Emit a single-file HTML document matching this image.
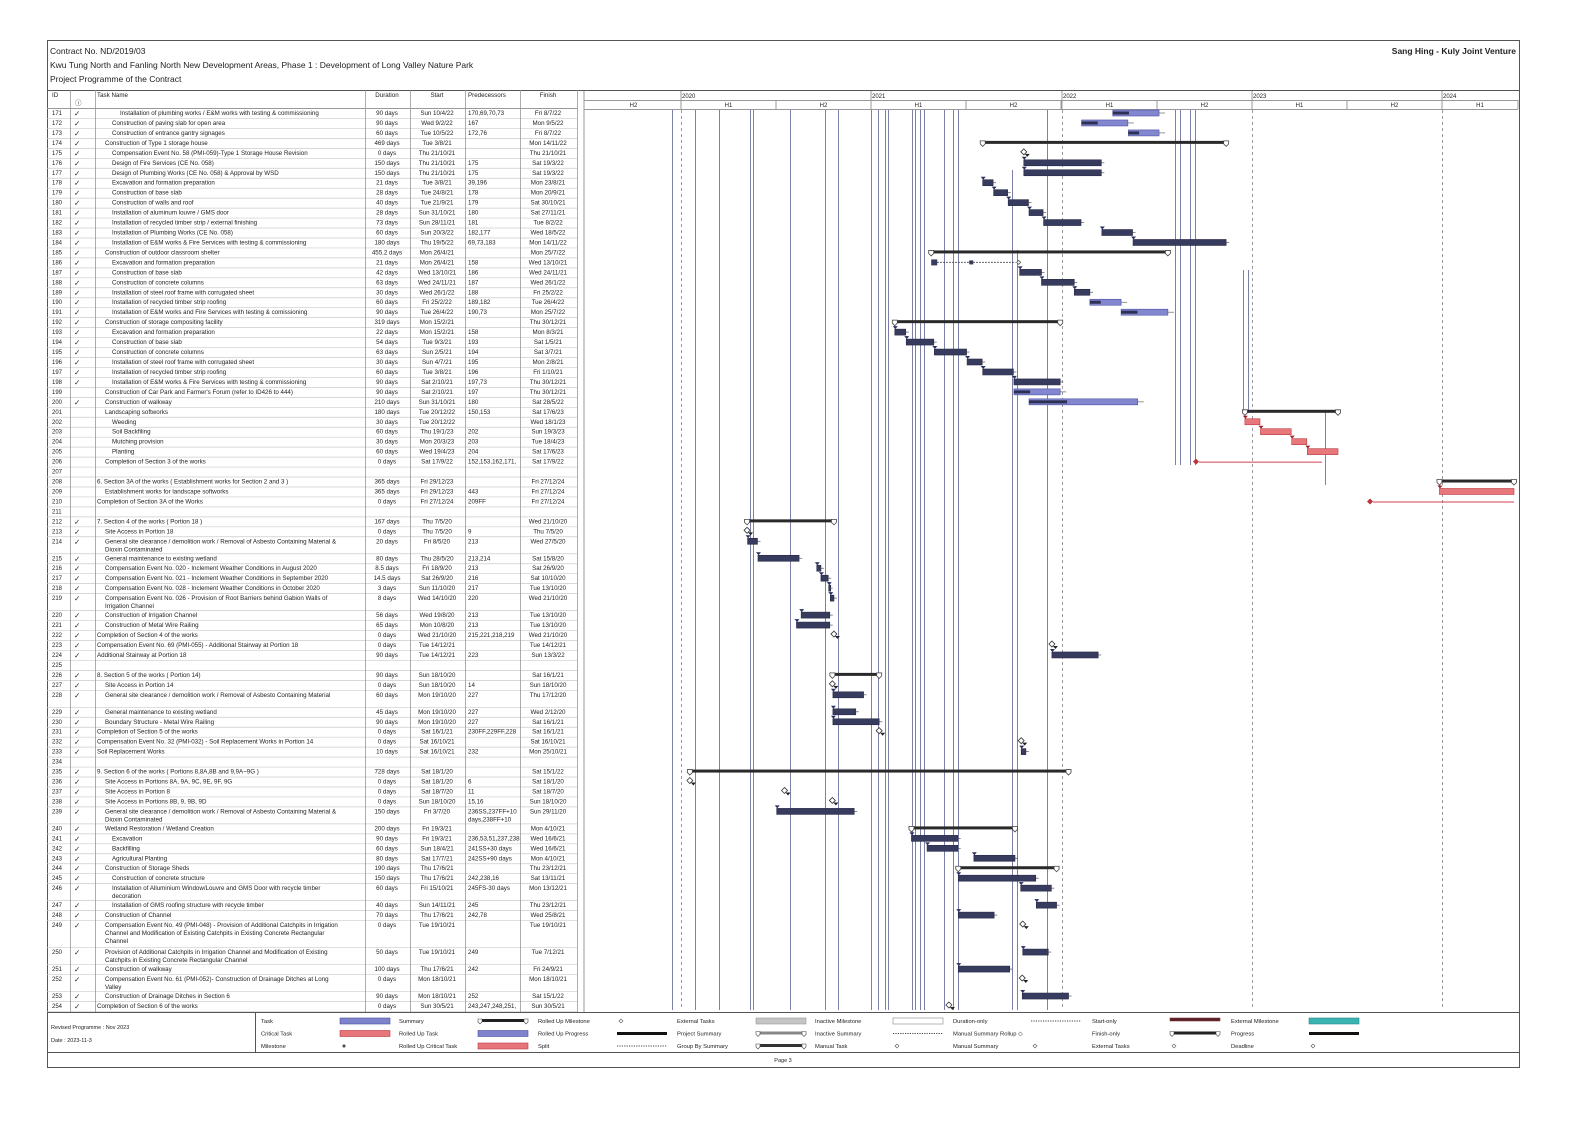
<!DOCTYPE html>
<html><head><meta charset="utf-8"><style>
html,body{margin:0;padding:0;background:#fff}
svg{display:block}
text{font-family:"Liberation Sans",sans-serif;fill:#222}
</style></head><body>
<svg id="s" width="1588" height="1123" viewBox="0 0 1588 1123" xmlns="http://www.w3.org/2000/svg">
<rect x="0" y="0" width="1588" height="1123" fill="#fff"/>
<rect x="47.5" y="40.5" width="1472" height="1027" fill="none" stroke="#555" stroke-width="1"/>
<text x="50" y="54" font-size="8.5">Contract No. ND/2019/03</text>
<text x="50" y="68" font-size="8.5">Kwu Tung North and Fanling North New Development Areas, Phase 1 : Development of Long Valley Nature Park</text>
<text x="50" y="82" font-size="8.5">Project Programme of the Contract</text>
<text x="1516" y="54" font-size="8.5" font-weight="bold" text-anchor="end">Sang Hing - Kuly Joint Venture</text>
<g id="g"></g>
</svg>
<script>
var NS="http://www.w3.org/2000/svg",G=document.getElementById("g");
function el(t,a,txt){var e=document.createElementNS(NS,t);for(var k in a)e.setAttribute(k,a[k]);if(txt!=null)e.textContent=txt;G.appendChild(e);return e;}
function L(x1,y1,x2,y2,c,w,d){var a={x1:x1,y1:y1,x2:x2,y2:y2,stroke:c||"#bbb","stroke-width":w||1};if(d)a["stroke-dasharray"]=d;return el("line",a);}
function T(x,y,s,sz,anc,ex){var a={x:x,y:y,"font-size":sz||6.2};if(anc)a["text-anchor"]=anc;for(var k in ex||{})a[k]=ex[k];return el("text",a,s);}
function dx(s){var p=s.split("/");var d=(Date.UTC(2000+ +p[2],p[1]-1,+p[0])-Date.UTC(2020,0,1))/864e5;return 681+d/365.25*190;}
var GL=584,GR=1518;
// header
L(47,90.5,1520,90.5,"#555");L(47,108.5,577,108.5,"#999");
L(584,100.5,1518,100.5,"#999");L(584,109.5,1518,109.5,"#999");
T(52,97,"ID",6.2);T(75,105,"ⓘ",6.5);T(97,97,"Task Name",6.2);T(387,97,"Duration",6.2,"middle");T(437,97,"Start",6.2,"middle");T(468,97,"Predecessors",6.2);T(548,97,"Finish",6.2,"middle");
var yrs=[[2020,681],[2021,871],[2022,1062],[2023,1252],[2024,1442]];
yrs.forEach(function(y){L(y[1],91,y[1],109,"#999");T(y[1]+1,98,y[0],6);});
var halves=[[586,681,"H2"]];
yrs.forEach(function(y){halves.push([y[1],y[1]+95,"H1"]);halves.push([y[1]+95,y[1]+190,"H2"]);});
halves.forEach(function(h){var a=h[0],b=Math.min(h[1],GR);if(a>=GR)return;L(b,100,b,109,"#999");T((a+b)/2,107,h[2],6,"middle");});
L(584,91,584,1012,"#999");
// rows data: id,check,indent,name,dur,start,pred,finish,type,lines
var R=[
[171,1,3,"Installation of plumbing works / E&M works with testing & commissioning","90 days","Sun 10/4/22","170,69,70,73","Fri 8/7/22","P"],
[172,1,2,"Construction of paving slab for open area","90 days","Wed 9/2/22","167","Mon 9/5/22","P"],
[173,1,2,"Construction of entrance gantry signages","60 days","Tue 10/5/22","172,76","Fri 8/7/22","P"],
[174,1,1,"Construction of Type 1 storage house","469 days","Tue 3/8/21","","Mon 14/11/22","S"],
[175,1,2,"Compensation Event No. 58 (PMI-059)-Type 1 Storage House Revision","0 days","Thu 21/10/21","","Thu 21/10/21","M"],
[176,1,2,"Design of Fire Services (CE No. 058)","150 days","Thu 21/10/21","175","Sat 19/3/22","T"],
[177,1,2,"Design of Plumbing Works (CE No. 058) & Approval by WSD","150 days","Thu 21/10/21","175","Sat 19/3/22","T"],
[178,1,2,"Excavation and formation preparation","21 days","Tue 3/8/21","39,196","Mon 23/8/21","T"],
[179,1,2,"Construction of base slab","28 days","Tue 24/8/21","178","Mon 20/9/21","T"],
[180,1,2,"Construction of walls and roof","40 days","Tue 21/9/21","179","Sat 30/10/21","T"],
[181,1,2,"Installation of aluminum louvre / GMS door","28 days","Sun 31/10/21","180","Sat 27/11/21","T"],
[182,1,2,"Installation of recycled timber strip / external finishing","73 days","Sun 28/11/21","181","Tue 8/2/22","T"],
[183,1,2,"Installation of Plumbing Works (CE No. 058)","60 days","Sun 20/3/22","182,177","Wed 18/5/22","T"],
[184,1,2,"Installation of E&M works & Fire Services with testing & commissioning","180 days","Thu 19/5/22","69,73,183","Mon 14/11/22","T"],
[185,1,1,"Construction of outdoor classroom shelter","455.2 days","Mon 26/4/21","","Mon 25/7/22","S"],
[186,1,2,"Excavation and formation preparation","21 days","Mon 26/4/21","158","Wed 13/10/21","SP"],
[187,1,2,"Construction of base slab","42 days","Wed 13/10/21","186","Wed 24/11/21","T"],
[188,1,2,"Construction of concrete columns","63 days","Wed 24/11/21","187","Wed 26/1/22","T"],
[189,1,2,"Installation of steel roof frame with corrugated sheet","30 days","Wed 26/1/22","188","Fri 25/2/22","T"],
[190,1,2,"Installation of recycled timber strip roofing","60 days","Fri 25/2/22","189,182","Tue 26/4/22","P"],
[191,1,2,"Installation of E&M works and Fire Services with testing & comissioning","90 days","Tue 26/4/22","190,73","Mon 25/7/22","P"],
[192,1,1,"Construction of storage compositing facility","319 days","Mon 15/2/21","","Thu 30/12/21","S"],
[193,1,2,"Excavation and formation preparation","22 days","Mon 15/2/21","158","Mon 8/3/21","T"],
[194,1,2,"Construction of base slab","54 days","Tue 9/3/21","193","Sat 1/5/21","T"],
[195,1,2,"Construction of concrete columns","63 days","Sun 2/5/21","194","Sat 3/7/21","T"],
[196,1,2,"Installation of steel roof frame with corrugated sheet","30 days","Sun 4/7/21","195","Mon 2/8/21","T"],
[197,1,2,"Installation of recycled timber strip roofing","60 days","Tue 3/8/21","196","Fri 1/10/21","T"],
[198,1,2,"Installation of E&M works & Fire Services with testing & commissioning","90 days","Sat 2/10/21","197,73","Thu 30/12/21","T"],
[199,0,1,"Construction of Car Park and Farmer's Forum (refer to ID426 to 444)","90 days","Sat 2/10/21","197","Thu 30/12/21","P"],
[200,1,1,"Construction of walkway","210 days","Sun 31/10/21","180","Sat 28/5/22","P"],
[201,0,1,"Landscaping softworks","180 days","Tue 20/12/22","150,153","Sat 17/6/23","S"],
[202,0,2,"Weeding","30 days","Tue 20/12/22","","Wed 18/1/23","C"],
[203,0,2,"Soil Backfiling","60 days","Thu 19/1/23","202","Sun 19/3/23","C"],
[204,0,2,"Mutching provision","30 days","Mon 20/3/23","203","Tue 18/4/23","C"],
[205,0,2,"Planting","60 days","Wed 19/4/23","204","Sat 17/6/23","C"],
[206,0,1,"Completion of Section 3 of the works","0 days","Sat 17/9/22","152,153,162,171,","Sat 17/9/22","CM"],
[207,0,0,"","","","","",""],
[208,0,0,"6.  Section 3A of the works ( Establishment works for Section 2 and 3 )","365 days","Fri 29/12/23","","Fri 27/12/24","S"],
[209,0,1,"Establishment works for landscape softworks","365 days","Fri 29/12/23","443","Fri 27/12/24","C"],
[210,0,0,"Completion of Section 3A of the Works","0 days","Fri 27/12/24","209FF","Fri 27/12/24","CM2"],
[211,0,0,"","","","","",""],
[212,1,0,"7.  Section 4 of the works ( Portion 18 )","167 days","Thu 7/5/20","","Wed 21/10/20","S"],
[213,1,1,"Site Access in Portion 18","0 days","Thu 7/5/20","9","Thu 7/5/20","M"],
[214,1,1,"General site clearance / demolition work / Removal of Asbesto Containing Material &|Dioxin Contaminated","20 days","Fri 8/5/20","213","Wed 27/5/20","T"],
[215,1,1,"General maintenance to existing wetland","80 days","Thu 28/5/20","213,214","Sat 15/8/20","T"],
[216,1,1,"Compensation Event No. 020 - Inclement Weather Conditions in August 2020","8.5 days","Fri 18/9/20","213","Sat 26/9/20","T"],
[217,1,1,"Compensation Event No. 021 - Inclement Weather Conditions in September 2020","14.5 days","Sat 26/9/20","216","Sat 10/10/20","T"],
[218,1,1,"Compensation Event No. 028 - Inclement Weather Conditions in October 2020","3 days","Sun 11/10/20","217","Tue 13/10/20","T"],
[219,1,1,"Compensation Event No. 026 - Provision of Root Barriers behind Gabion Walls of|Irrigation Channel","8 days","Wed 14/10/20","220","Wed 21/10/20","T"],
[220,1,1,"Construction of Irrigation Channel","56 days","Wed 19/8/20","213","Tue 13/10/20","T"],
[221,1,1,"Construction of Metal Wire Railing","65 days","Mon 10/8/20","213","Tue 13/10/20","T"],
[222,1,0,"Completion of Section 4 of the works","0 days","Wed 21/10/20","215,221,218,219","Wed 21/10/20","M"],
[223,1,0,"Compensation Event No. 69 (PMI-055) - Additional Stairway at Portion 18","0 days","Tue 14/12/21","","Tue 14/12/21","M"],
[224,1,0,"Additional Stairway at Portion 18","90 days","Tue 14/12/21","223","Sun 13/3/22","T"],
[225,0,0,"","","","","",""],
[226,1,0,"8.  Section 5 of the works ( Portion 14)","90 days","Sun 18/10/20","","Sat 16/1/21","S"],
[227,1,1,"Site Access in Portion 14","0 days","Sun 18/10/20","14","Sun 18/10/20","M"],
[228,1,1,"General site clearance / demolition work / Removal of Asbesto Containing Material| ","60 days","Mon 19/10/20","227","Thu 17/12/20","T"],
[229,1,1,"General maintenance to existing wetland","45 days","Mon 19/10/20","227","Wed 2/12/20","T"],
[230,1,1,"Boundary Structure - Metal Wire Railing","90 days","Mon 19/10/20","227","Sat 16/1/21","T"],
[231,1,0,"Completion of Section 5 of the works","0 days","Sat 16/1/21","230FF,229FF,228","Sat 16/1/21","M"],
[232,1,0,"Compensation Event No. 32 (PMI-032) - Soil Replacement Works in Portion 14","0 days","Sat 16/10/21","","Sat 16/10/21","M"],
[233,1,0,"Soil Replacement Works","10 days","Sat 16/10/21","232","Mon 25/10/21","T"],
[234,0,0,"","","","","",""],
[235,1,0,"9.  Section 6 of the works ( Portions 8,8A,8B and 9,9A~9G )","728 days","Sat 18/1/20","","Sat 15/1/22","S"],
[236,1,1,"Site Access in Portions 8A, 9A, 9C, 9E, 9F, 9G","0 days","Sat 18/1/20","6","Sat 18/1/20","M"],
[237,1,1,"Site Access in Portion 8","0 days","Sat 18/7/20","11","Sat 18/7/20","M"],
[238,1,1,"Site Access in Portions 8B, 9, 9B, 9D","0 days","Sun 18/10/20","15,16","Sun 18/10/20","M"],
[239,1,1,"General site clearance / demolition work / Removal of Asbesto Containing Material &|Dioxin Contaminated","150 days","Fri 3/7/20","236SS,237FF+10|days,238FF+10","Sun 29/11/20","T"],
[240,1,1,"Wetland Restoration / Wetland Creation","200 days","Fri 19/3/21","","Mon 4/10/21","S"],
[241,1,2,"Excavation","90 days","Fri 19/3/21","236,53,51,237,238","Wed 16/6/21","T"],
[242,1,2,"Backfilling","60 days","Sun 18/4/21","241SS+30 days","Wed 16/6/21","T"],
[243,1,2,"Agricultural Planting","80 days","Sat 17/7/21","242SS+90 days","Mon 4/10/21","T"],
[244,1,1,"Construction of Storage Sheds","190 days","Thu 17/6/21","","Thu 23/12/21","S"],
[245,1,2,"Construction of concrete structure","150 days","Thu 17/6/21","242,238,16","Sat 13/11/21","T"],
[246,1,2,"Installation of Alluminium Window/Louvre and GMS Door with recycle timber|decoration","60 days","Fri 15/10/21","245FS-30 days","Mon 13/12/21","T"],
[247,1,2,"Installation of GMS roofing structure with recycle timber","40 days","Sun 14/11/21","245","Thu 23/12/21","T"],
[248,1,1,"Construction of Channel","70 days","Thu 17/6/21","242,78","Wed 25/8/21","T"],
[249,1,1,"Compensation Event No. 49 (PMI-048) - Provision of Additional Catchpits in Irrigation|Channel and Modification of Existing Catchpits in Existing Concrete Rectangular|Channel","0 days","Tue 19/10/21","","Tue 19/10/21","M"],
[250,1,1,"Provision of Additional Catchpits in Irrigation Channel and Modification of Existing|Catchpits in Existing Concrete Rectangular Channel","50 days","Tue 19/10/21","249","Tue 7/12/21","T"],
[251,1,1,"Construction of walkway","100 days","Thu 17/6/21","242","Fri 24/9/21","T"],
[252,1,1,"Compensation Event No. 61 (PMI-052)- Construction of Drainage Ditches at Long|Valley","0 days","Mon 18/10/21","","Mon 18/10/21","M"],
[253,1,1,"Construction of Drainage Ditches in Section 6","90 days","Mon 18/10/21","252","Sat 15/1/22","T"],
[254,1,0,"Completion of Section 6 of the works","0 days","Sun 30/5/21","243,247,248,251,","Sun 30/5/21","M"]
];
// vertical link lines
var VL=[672,695,719,750,753,790,825,838,871,878,885,888,912,915,920,924,944,953,958];
VL.forEach(function(x){L(x+.5,110,x+.5,1010,"#7c80a8",1);});
[[1012,170,1010],[1017,250,1010],[1047,110,1010],[1175,110,465],[1180,110,465],[1190,110,465],[1195,110,465],[1243,270,413],[1248,270,413],[1325,410,485]].forEach(function(v){L(v[0]+.5,v[1],v[0]+.5,v[2],"#7c80a8",1);});
[681,1062,1252,1442].forEach(function(x){L(x+.5,110,x+.5,1010,"#999",1,"3,3");});
var IND=[97,105,112,120],y=108,U=9.96;
R.forEach(function(r){
  var nl=r[3].split("|").length,h=nl==1?U:(nl==2?17:27);
  var top=y;
  L(47,top+h+.5,577,top+h+.5,"#ccc",.7);
  T(52,top+7,r[0],6);
  if(r[1])T(74,top+8,"✓",7.5,null,{fill:"#3b6fb6"});
  r[3].split("|").forEach(function(s,i){T(IND[r[2]],top+7+i*8,s,6.2);});
  T(387,top+7,r[4],6.2,"middle");T(437,top+7,r[5],6.2,"middle");
  r[6].split("|").forEach(function(s,i){T(468,top+7+i*8,s,6.2);});
  T(548,top+7,r[7],6.2,"middle");
  var cy=top+5,t=r[8];
  if(t){var x1=dx(r[5].split(" ")[1]),x2=r[7]?dx(r[7].split(" ")[1]):x1;x2=Math.min(x2,1514);
  if(t=="S"){el("rect",{x:x1,y:cy-2,width:x2-x1,height:3,fill:"#2a2a2a"});
    el("path",{d:"M"+(x1-2.5)+","+(cy-2)+"h5v3l-2.5,2.5l-2.5,-2.5z",fill:"#fff",stroke:"#444","stroke-width":.8});
    el("path",{d:"M"+(x2-2.5)+","+(cy-2)+"h5v3l-2.5,2.5l-2.5,-2.5z",fill:"#fff",stroke:"#444","stroke-width":.8});}
  else if(t=="T"){el("rect",{x:x1,y:cy-3,width:Math.max(x2-x1,2),height:6,fill:"#373b5e",stroke:"#272a45","stroke-width":.6});
    el("path",{d:"M"+(x1-2)+","+(cy-6)+"h5l-2.5,3z",fill:"#2a2e60"});
    L(x2,cy,x2+3,cy,"#555",.7);}
  else if(t=="P"){el("rect",{x:x1,y:cy-3,width:x2-x1,height:6,fill:"#8387d0",stroke:"#4b50a2","stroke-width":.6});
    el("rect",{x:x1,y:cy-1.5,width:(x2-x1)*.35,height:3,fill:"#2d3052"});L(x2,cy,x2+6,cy,"#666",.7);}
  else if(t=="C"){el("rect",{x:x1,y:cy-3,width:x2-x1,height:6,fill:"#e8777b",stroke:"#b83a42","stroke-width":.6});
    el("path",{d:"M"+(x1-2)+","+(cy-6)+"h5l-2.5,3z",fill:"#a0202a"});}
  else if(t=="SP"){el("rect",{x:x1,y:cy-3,width:6,height:6,fill:"#373b5e"});el("rect",{x:x1+38,y:cy-2,width:4,height:4,fill:"#373b5e"});
    L(x1+6,cy,x2-4,cy,"#333",1,"1.5,1.5");el("path",{d:"M"+(x2-3)+","+cy+"l2,-2l2,2l-2,2z",fill:"#fff",stroke:"#444","stroke-width":.7});}
  else if(t=="M"){el("path",{d:"M"+(x1-3)+","+(cy-1)+"l3,-3l3,3l-3,3z",fill:"#fff",stroke:"#333","stroke-width":.8});
    el("path",{d:"M"+(x1+1)+","+(cy+1)+"h5l-2.5,3z",fill:"#222"});}
  else if(t=="CM"){el("path",{d:"M"+(x1-3)+","+cy+"l3,-3l3,3l-3,3z",fill:"#c0303a"});L(x1+3,cy+.5,1322,cy+.5,"#d04050",1);}
  else if(t=="CM2"){el("path",{d:"M1367,"+cy+"l3,-3l3,3l-3,3z",fill:"#c0303a"});L(1373,cy+.5,1514,cy+.5,"#d04050",1);}
  }
  y+=h;
});
// column lines
[70,95,365,410,465,520,577].forEach(function(x){L(x+.5,90,x+.5,1012,"#999",.8);});
// legend
L(47,1012.5,1520,1012.5,"#555");L(47,1052.5,1520,1052.5,"#555");L(255.5,1012,255.5,1052,"#555");
T(51,1029,"Revised Programme : Nov 2023",5.5);T(51,1042,"Date : 2023-11-3",5.5);
T(783,1062,"Page 3",5.5,"middle");
var cols=[261,399,538,677,815,953,1092,1231],sw=[340,478,617,756,893,1031,1170,1309];
var LG=[["Task","bar:#7e83cc:#4a4fa0","Summary","sum:#222","Rolled Up Milestone","dia","External Tasks","bar:#c4c4c4:#999","Inactive Milestone","bar:#fff:#888","Duration-only","dots","Start-only","bar:#5a1f25:#7a3f45:3","External Milestone","bar:#3bb3b3:#2a8a8a"],
["Critical Task","bar:#e6767a:#b83a42","Rolled Up Task","bar:#7e83cc:#4a4fa0","Rolled Up Progress","line","Project Summary","sum:#888","Inactive Summary","dots","Manual Summary Rollup ◇","","Finish-only","sum:#222","Progress","line"],
["Milestone","dia2","Rolled Up Critical Task","bar:#e6767a:#b83a42","Split","dots","Group By Summary","sum:#333","Manual Task","dia","Manual Summary","dia","External Tasks","dia","Deadline","dia"]];
LG.forEach(function(row,ri){var yy=1021+ri*12.5;
 for(var i=0;i<8;i++){var lab=row[i*2],s=row[i*2+1],x=cols[i],sx=sw[i];T(x,yy+2,lab,5.8);
  if(!s)continue;var p=s.split(":");
  if(p[0]=="bar")el("rect",{x:sx,y:yy-3,width:50,height:p[3]?3:6,fill:p[1],stroke:p[2],"stroke-width":.6});
  else if(p[0]=="sum"){el("rect",{x:sx,y:yy-2,width:50,height:3,fill:p[1]});el("path",{d:"M"+sx+","+(yy-2)+"h4v3l-2,2l-2,-2z",fill:"#fff",stroke:"#444","stroke-width":.6});el("path",{d:"M"+(sx+46)+","+(yy-2)+"h4v3l-2,2l-2,-2z",fill:"#fff",stroke:"#444","stroke-width":.6});}
  else if(p[0]=="line")el("rect",{x:sx,y:yy-1.5,width:50,height:3,fill:"#111"});
  else if(p[0]=="dots")L(sx,yy,sx+50,yy,"#444",1,"1.2,1.2");
  else if(p[0]=="dia")el("path",{d:"M"+(sx+2)+","+yy+"l2,-2l2,2l-2,2z",fill:"#fff",stroke:"#555","stroke-width":.6});
  else if(p[0]=="dia2")el("path",{d:"M"+(sx+2)+","+yy+"l2,-2l2,2l-2,2z",fill:"#555"});
 }});
</script>
</body></html>
